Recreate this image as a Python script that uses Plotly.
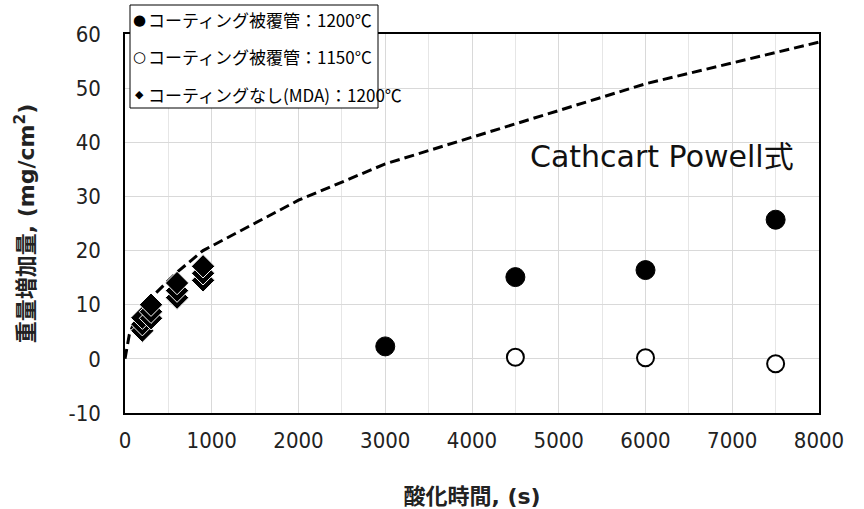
import plotly.graph_objects as go

# Data
coated_1200_t = [3000, 4500, 6000, 7500]
coated_1200_w = [2.3, 15.1, 16.4, 25.7]

coated_1150_t = [4500, 6000, 7500]
coated_1150_w = [0.3, 0.2, -0.9]

mda_t = [200, 200, 200, 300, 300, 300, 600, 600, 600, 900, 900, 900]
mda_w = [5.2, 6.4, 7.6, 7.5, 8.7, 10.0, 11.3, 12.6, 14.0, 14.5, 15.8, 17.1]

cp_t = [0, 50, 100, 200, 300, 600, 900, 2000, 3000, 6000, 8000]
cp_w = [0, 4.5, 6.5, 9.2, 11.3, 16.0, 20.0, 29.3, 36.0, 50.8, 58.5]

x_ticks = [0, 1000, 2000, 3000, 4000, 5000, 6000, 7000, 8000]
y_ticks = [-10, 0, 10, 20, 30, 40, 50, 60]

legend_labels = ["コーティング被覆管：1200℃",
                 "コーティング被覆管：1150°C",
                 "コーティングなし(MDA)：1200℃"]
legend_symbols = ["●", "○", "◆"]

JP = "Noto Sans CJK JP"
TICK = "DejaVu Sans Condensed, DejaVu Sans"
LAT = "DejaVu Sans"

W, H = 864, 509
ML, MR, MT, MB = 125, 45, 34, 96
PW, PH = W - ML - MR, H - MT - MB


def px(xp):
    return (xp - ML) / PW


def py(yp):
    return (H - MB - yp) / PH


fig = go.Figure()

fig.add_trace(go.Scatter(
    x=cp_t, y=cp_w, mode="lines", showlegend=False,
    line=dict(color="black", width=3, dash="10px,5px"),
))

fig.add_trace(go.Scatter(
    x=mda_t, y=mda_w, mode="markers", showlegend=False,
    name=legend_labels[2],
    marker=dict(symbol="diamond", size=18, color="black",
                line=dict(color="white", width=1)),
))

fig.add_trace(go.Scatter(
    x=coated_1200_t, y=coated_1200_w, mode="markers", showlegend=False,
    name=legend_labels[0],
    marker=dict(symbol="circle", size=19, color="black",
                line=dict(color="black", width=1)),
))

fig.add_trace(go.Scatter(
    x=coated_1150_t, y=coated_1150_w, mode="markers", showlegend=False,
    name=legend_labels[1],
    marker=dict(symbol="circle", size=17, color="white",
                line=dict(color="black", width=2)),
))

fig.add_annotation(
    x=6190, y=37.3, text="Cathcart Powell式", showarrow=False,
    font=dict(family=LAT + ", " + JP, size=30, color="#111"),
)

# Legend box (drawn manually so it can overlap the plot frame)
fig.add_shape(type="rect", xref="paper", yref="paper",
              x0=px(130), x1=px(378), y0=py(108), y1=py(5),
              fillcolor="white", line=dict(color="black", width=1),
              layer="above")

row_y = [20, 57, 94]
sym_size = [15, 15, 11]
for lab, sym, ry, ss in zip(legend_labels, legend_symbols, row_y, sym_size):
    fig.add_annotation(x=px(139), y=py(ry), xref="paper", yref="paper",
                       text=sym, showarrow=False, xanchor="center",
                       yanchor="middle",
                       font=dict(family=LAT, size=ss, color="black"))
    fig.add_annotation(x=px(146), y=py(ry), xref="paper", yref="paper",
                       text=lab, showarrow=False, xanchor="left",
                       yanchor="middle",
                       font=dict(family=JP, size=17, color="black"))

fig.update_layout(
    width=W, height=H,
    margin=dict(l=ML, r=MR, t=MT, b=MB),
    paper_bgcolor="white", plot_bgcolor="white",
    font=dict(family=LAT + ", " + JP, color="black"),
    showlegend=False,
)

fig.update_xaxes(
    range=[0, 8000], tickvals=x_ticks,
    ticktext=[str(v) for v in x_ticks],
    showgrid=True, gridcolor="#d9d9d9", gridwidth=1,
    minor=dict(dtick=500, showgrid=True, gridcolor="#e6e6e6", gridwidth=1),
    showline=True, linecolor="black", linewidth=1.5, mirror=True,
    zeroline=False, ticks="", ticklabelstandoff=7, automargin=False,
    tickfont=dict(family=TICK, size=22, color="#222"),
    title=dict(text="<b>酸化時間, (s)</b>", standoff=40,
               font=dict(family="DejaVu Sans, " + JP, size=22, color="#222")),
)

fig.update_yaxes(
    range=[-10, 60], tickvals=y_ticks,
    ticktext=[str(v) for v in y_ticks],
    showgrid=True, gridcolor="#d9d9d9", gridwidth=1,
    showline=True, linecolor="black", linewidth=1.5, mirror=True,
    zeroline=False, ticks="", ticklabelstandoff=18, automargin=False,
    tickfont=dict(family=TICK, size=22, color="#222"),
    title=dict(text="<b>重量増加量, (mg/cm<sup>2</sup>)</b>", standoff=28,
               font=dict(family="DejaVu Sans, " + JP, size=22, color="#222")),
)

fig.write_html(
    "out.html",
    config={"displayModeBar": False},
    post_script="document.body.style.margin='0';document.body.style.padding='0';",
)
